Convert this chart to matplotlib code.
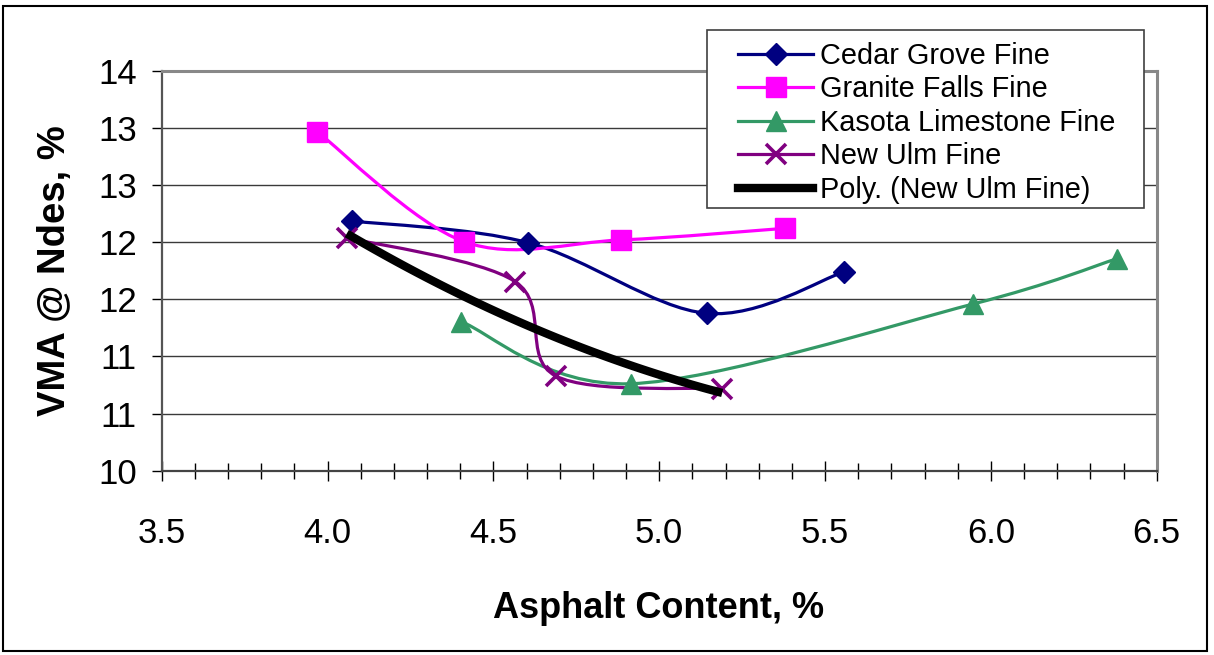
import numpy as np
import matplotlib
matplotlib.use("Agg")
import matplotlib.pyplot as plt
from matplotlib.path import Path
from matplotlib.patches import PathPatch, Rectangle
from matplotlib.lines import Line2D
from matplotlib.ticker import MultipleLocator

plt.rcParams['font.family'] = ['Liberation Sans', 'DejaVu Sans']

# VMA at Ndes vs asphalt content for the fine mixes
cedar_x = [4.075, 4.605, 5.143, 5.558]
cedar_y = [12.185, 11.995, 11.377, 11.741]
granite_x = [3.969, 4.412, 4.884, 5.380]
granite_y = [12.966, 12.004, 12.019, 12.121]
kasota_x = [4.403, 4.914, 5.947, 6.379]
kasota_y = [11.304, 10.761, 11.459, 11.854]
ulm_x = [4.058, 4.566, 4.688, 5.190]
ulm_y = [12.039, 11.654, 10.829, 10.717]

series_names = ["Cedar Grove Fine", "Granite Falls Fine",
                "Kasota Limestone Fine", "New Ulm Fine"]
trend_name = "Poly. (New Ulm Fine)"

x_ticks = [3.5, 4.0, 4.5, 5.0, 5.5, 6.0, 6.5]
x_tick_labels = ["3.5", "4.0", "4.5", "5.0", "5.5", "6.0", "6.5"]
y_ticks = [10, 10.5, 11, 11.5, 12, 12.5, 13, 13.5]
y_tick_labels = ["10", "11", "11", "12", "12", "13", "13", "14"]


def smooth_path(x, y):
    # bezier segments like a spreadsheet "smoothed line"
    p = np.column_stack([x, y])
    n = len(p)
    verts = [p[0]]
    codes = [Path.MOVETO]
    for i in range(n - 1):
        prev = p[i - 1] if i > 0 else p[i]
        nxt = p[i + 2] if i + 2 < n else p[i + 1]
        c1 = p[i] + (p[i + 1] - prev) / 6.0
        c2 = p[i + 1] - (nxt - p[i]) / 6.0
        verts += [c1, c2, p[i + 1]]
        codes += [Path.CURVE4] * 3
    return Path(verts, codes)


W, H = 1214, 655
fig = plt.figure(figsize=(W / 100, H / 100), dpi=100)
ax = fig.add_axes([161.7 / W, 1 - 470.7 / H, 995 / W, 400 / H])

styles = [
    dict(color="#000080", marker="D", ms=11, mew=1),
    dict(color="#FF00FF", marker="s", ms=14, mew=1),
    dict(color="#339966", marker="^", ms=14, mew=1),
    dict(color="#800080", marker="x", ms=15, mew=2.6),
]
data = [(cedar_x, cedar_y), (granite_x, granite_y),
        (kasota_x, kasota_y), (ulm_x, ulm_y)]

handles = []
for (xs, ys), st, name in zip(data, styles, series_names):
    ax.add_patch(PathPatch(smooth_path(xs, ys), fill=False,
                           edgecolor=st["color"], lw=2.3, zorder=3))
    ax.plot(xs, ys, linestyle="none", marker=st["marker"], ms=st["ms"],
            color=st["color"], mec=st["color"], mew=st["mew"], zorder=4)
    handles.append(Line2D([], [], color=st["color"], lw=2.3,
                          marker=st["marker"], ms=st["ms"],
                          mew=st["mew"], mec=st["color"]))

# 2nd order polynomial trendline through New Ulm
coef = np.polyfit(ulm_x, ulm_y, 2)
tx = np.linspace(min(ulm_x), max(ulm_x), 100)
ax.plot(tx, np.polyval(coef, tx), color="black", lw=6,
        solid_capstyle="butt", zorder=5)
handles.append(Line2D([], [], color="black", lw=6))

ax.set_xlim(3.5, 6.5)
ax.set_ylim(10, 13.5)
ax.set_xticks(x_ticks)
ax.set_xticklabels(x_tick_labels)
ax.xaxis.set_minor_locator(MultipleLocator(0.1))
ax.set_yticks(y_ticks)
ax.set_yticklabels(y_tick_labels)
ax.yaxis.grid(True, color="#3a3a3a", lw=1)
ax.set_axisbelow(True)

ax.tick_params(axis="y", direction="out", length=7, width=1,
               color="black", labelsize=25, pad=11)
ax.tick_params(axis="x", which="major", direction="inout", length=14,
               width=1, color="black", labelsize=25, pad=26)
ax.tick_params(axis="x", which="minor", direction="inout", length=11,
               width=1, color="black")

ax.spines["top"].set_color("#888888")
ax.spines["right"].set_color("#888888")
ax.spines["top"].set_linewidth(2.2)
ax.spines["right"].set_linewidth(2.2)
ax.spines["left"].set_color("#555555")
ax.spines["left"].set_linewidth(1.6)
ax.spines["bottom"].set_color("#444444")
ax.spines["bottom"].set_linewidth(1.6)

fig.text(659 / W, 1 - 608 / H, "Asphalt Content, %", fontsize=26,
         fontweight="bold", ha="center", va="center")
fig.text(55 / W, 1 - 271 / H, "VMA @ Ndes, %", fontsize=27.5,
         fontweight="bold", ha="center", va="center", rotation=90)

# legend box drawn by hand so it can sit over the plot border
fig.add_artist(Rectangle((706.7 / W, 1 - 208 / H), 437.6 / W, 178 / H,
                         transform=fig.transFigure, facecolor="white",
                         edgecolor="#404040", lw=1.2, zorder=4))
leg = fig.legend(handles, series_names + [trend_name], loc="upper left",
                 bbox_to_anchor=(738 / W, 1 - 42 / H),
                 bbox_transform=fig.transFigure, frameon=False,
                 fontsize=20.8, handlelength=2.6, handletextpad=0.25,
                 labelspacing=0.19, borderpad=0, borderaxespad=0)
leg.set_zorder(5)

# outer chart border
fig.add_artist(Rectangle((3 / W, 1 - 651 / H), 1204 / W, 645 / H,
                         transform=fig.transFigure, fill=False,
                         edgecolor="black", lw=1.5, zorder=6))

fig.savefig("out.png", dpi=100)
